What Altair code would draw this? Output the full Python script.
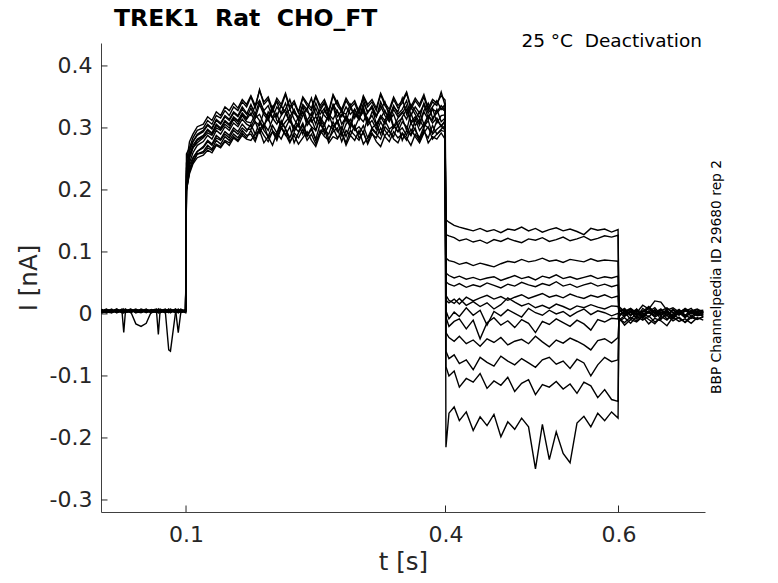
import altair as alt
import pandas as pd

# ---- time grids (s) for the four protocol segments ----
T_BASE = [0.002, 0.008, 0.014, 0.020, 0.026, 0.028, 0.030, 0.036, 0.042, 0.048, 0.054,
          0.060, 0.066, 0.068, 0.070, 0.076, 0.080, 0.082, 0.088, 0.091, 0.094, 0.0995]
T_ACT = [0.1005, 0.104, 0.108, 0.113,
         0.12, 0.125, 0.13, 0.135, 0.14, 0.145, 0.15, 0.155, 0.16, 0.165, 0.17,
         0.175, 0.18, 0.185, 0.19, 0.195, 0.2, 0.205, 0.21, 0.215, 0.22, 0.225, 0.23,
         0.235, 0.24, 0.245, 0.25, 0.255, 0.26, 0.265, 0.27, 0.275, 0.28, 0.285, 0.29,
         0.295, 0.3, 0.305, 0.31, 0.315, 0.32, 0.325, 0.33, 0.335, 0.34, 0.345, 0.35,
         0.355, 0.36, 0.365, 0.37, 0.375, 0.38, 0.385, 0.39, 0.395, 0.3995]
T_TAIL = [0.4005, 0.404, 0.41, 0.416, 0.424, 0.432, 0.44, 0.448, 0.456, 0.464, 0.472,
          0.48, 0.488, 0.496, 0.504, 0.512, 0.52, 0.528, 0.536, 0.544, 0.552, 0.56,
          0.568, 0.576, 0.584, 0.592, 0.5995]
T_POST = [0.6005, 0.607, 0.614, 0.621, 0.628, 0.635, 0.642, 0.649, 0.656, 0.663, 0.670,
          0.677, 0.684, 0.691, 0.698]

# ---- currents in pA, one list per sweep and segment ----
BASE = [
    [4, 6, 2, 5, 7, 3, 5, 8, 4, 6, 3, 7, 5, 2, 6, 4, 8, 5, 3, 6, 4, 5],
    [2, 5, 7, 3, 4, 6, 2, 5, 8, 3, 5, 4, 6, 3, 7, 2, 5, 4, 6, -30, 3, 4],
    [7, 3, 5, 8, 2, 4, 6, 3, 5, 7, 2, 6, 4, 8, 3, 5, 6, 2, 7, 4, 6, 3],
    [5, 8, 3, 6, 4, -30, 5, 7, 2, 4, 6, 3, 7, 5, 2, 6, 3, 7, 4, 5, 2, 6],
    [3, 4, 8, 2, 6, 5, 3, 4, 7, 5, 8, 2, 5, 3, 6, 7, 4, 3, 5, 8, 5, 2],
    [6, 2, 4, 7, 3, 5, 8, 2, 6, 3, 4, 7, 2, -33, 5, 3, 7, 6, 2, 4, 7, 5],
    [1, 5, 6, 3, 8, 2, 4, 6, 3, 8, 5, 2, 6, 4, 3, 7, 5, 8, 4, 2, 6, 4],
    [8, 3, 2, 6, 5, 7, 3, 5, 4, 2, 7, 5, 3, 6, 8, 4, 2, 5, 7, 3, 5, 7],
    [4, 7, 5, 2, 6, 3, 6, 4, -16, -20, -15, 4, 3, 7, 5, 2, 6, 3, 5, 7, 3, 4],
    [3, 6, 4, 8, 2, 6, 4, 3, 7, 5, 3, 6, 8, 2, 4, 6, 3, 7, 2, 5, 8, 3],
    [5, 2, 6, 4, 7, 3, 5, 7, 2, 6, 4, 3, 5, 7, 2, 5, -58, -60, 4, 6, 3, 6],
    [6, 4, 3, 7, 5, 2, 7, 3, 6, 4, 7, 5, 2, 4, 6, 3, 5, 4, 8, 2, 5, 4],
    [2, 7, 5, 4, 3, 8, 4, 6, 5, 3, 6, 4, 7, 3, 5, 8, 3, 6, 2, 7, 4, 5],
]
ACT = [
    [243, 278, 290, 302,
     306, 318, 312, 326, 320, 334, 328, 340, 332, 346, 338,
     352, 336, 360, 342, 350, 330, 348, 338, 356, 334, 344, 326, 350, 340, 332, 352, 336, 346, 328, 354,
     340, 330, 348, 336, 344, 326, 352, 338, 346, 332, 356, 340, 330, 350, 336, 344, 358, 334, 348, 338,
     354, 332, 346, 340, 352, 345],
    [205, 240, 252, 262,
     268, 278, 272, 284, 280, 290, 284, 296, 290, 300, 294,
     306, 290, 310, 296, 286, 304, 292, 312, 298, 284, 302, 294, 308, 288, 300, 282, 306, 296, 290, 310,
     294, 302, 286, 306, 298, 290, 304, 284, 300, 292, 310, 296, 286, 304, 294, 300, 288, 308, 296, 284,
     302, 312, 290, 298, 304, 296],
    [230, 262, 278, 288,
     294, 304, 298, 312, 306, 318, 312, 324, 318, 330, 322,
     338, 322, 344, 328, 336, 316, 334, 324, 340, 318, 330, 312, 336, 326, 320, 340, 322, 332, 314, 338,
     326, 318, 334, 322, 330, 314, 340, 326, 332, 318, 342, 326, 316, 336, 322, 330, 344, 320, 334, 324,
     338, 316, 330, 326, 336, 329],
    [198, 230, 246, 258,
     260, 268, 264, 274, 270, 280, 276, 286, 280, 292, 284,
     296, 282, 300, 288, 278, 294, 284, 302, 290, 276, 292, 284, 298, 280, 290, 274, 296, 286, 280, 300,
     284, 292, 276, 296, 288, 280, 294, 274, 290, 284, 300, 286, 278, 294, 284, 290, 280, 298, 286, 276,
     292, 302, 282, 290, 296, 294],
    [215, 252, 268, 276,
     284, 292, 288, 300, 296, 306, 300, 314, 306, 320, 310,
     308, 322, 312, 300, 326, 316, 306, 320, 330, 310, 302, 318, 326, 308, 316, 332, 312, 304, 322, 314,
     328, 306, 318, 300, 324, 314, 334, 310, 320, 304, 316, 328, 312, 322, 302, 318, 330, 308, 314, 326,
     306, 320, 312, 330, 310, 316],
    [258, 268, 284, 296,
     300, 312, 306, 320, 316, 328, 320, 334, 328, 342, 334,
     350, 332, 362, 338, 346, 326, 344, 334, 354, 330, 340, 324, 348, 336, 328, 350, 332, 342, 324, 352,
     336, 326, 344, 332, 340, 322, 350, 334, 342, 328, 354, 336, 326, 346, 332, 340, 356, 330, 344, 334,
     350, 328, 342, 336, 358, 336],
    [200, 234, 250, 262,
     270, 280, 274, 288, 282, 294, 288, 300, 294, 306, 298,
     298, 310, 292, 304, 316, 296, 288, 308, 300, 314, 294, 306, 290, 312, 302, 296, 316, 290, 304, 298,
     310, 288, 306, 314, 296, 302, 292, 316, 300, 306, 290, 312, 298, 304, 294, 310, 302, 288, 314, 296,
     306, 300, 292, 312, 304, 310],
    [226, 256, 272, 282,
     288, 298, 292, 306, 300, 312, 306, 318, 312, 324, 316,
     332, 316, 338, 322, 312, 330, 318, 336, 324, 310, 328, 316, 334, 312, 324, 306, 330, 320, 312, 336,
     318, 328, 310, 332, 322, 314, 330, 306, 326, 318, 336, 320, 310, 330, 318, 326, 314, 334, 322, 308,
     328, 340, 316, 324, 332, 327],
    [202, 230, 244, 258,
     262, 272, 266, 280, 274, 286, 280, 290, 284, 296, 288,
     290, 278, 298, 306, 284, 294, 280, 300, 288, 302, 276, 292, 304, 286, 298, 280, 290, 306, 282, 294,
     300, 278, 296, 288, 304, 284, 292, 276, 298, 290, 282, 302, 294, 286, 306, 280, 296, 288, 300, 278,
     294, 284, 304, 290, 298, 304],
    [235, 264, 278, 290,
     296, 306, 300, 314, 308, 320, 314, 326, 320, 334, 324,
     320, 336, 344, 326, 318, 334, 342, 322, 330, 346, 324, 316, 338, 330, 348, 320, 328, 340, 318, 334,
     344, 326, 322, 338, 316, 332, 346, 324, 336, 320, 330, 342, 318, 334, 326, 348, 322, 338, 328, 316,
     340, 324, 334, 344, 330, 338],
    [212, 244, 260, 272,
     278, 288, 282, 296, 290, 302, 296, 308, 302, 314, 306,
     302, 316, 322, 306, 296, 314, 324, 300, 310, 318, 298, 308, 326, 304, 314, 296, 318, 306, 322, 302,
     312, 296, 320, 308, 300, 316, 326, 304, 312, 298, 318, 306, 322, 300, 310, 316, 296, 324, 304, 314,
     300, 320, 308, 316, 302, 312],
    [200, 226, 242, 252,
     256, 264, 260, 272, 268, 278, 272, 284, 278, 288, 282,
     280, 290, 296, 276, 286, 272, 292, 282, 298, 278, 288, 274, 284, 294, 280, 270, 290, 298, 276, 286,
     282, 294, 272, 288, 280, 296, 274, 284, 292, 278, 270, 288, 296, 282, 276, 292, 284, 272, 290, 280,
     298, 276, 286, 282, 292, 282],
    [222, 252, 268, 280,
     286, 296, 290, 304, 298, 310, 304, 316, 310, 322, 314,
     324, 310, 304, 326, 316, 334, 312, 306, 322, 330, 314, 302, 320, 332, 310, 318, 306, 328, 316, 336,
     308, 322, 314, 304, 330, 318, 310, 326, 334, 306, 320, 312, 328, 302, 316, 324, 336, 310, 318, 304,
     326, 314, 332, 308, 320, 321],
]
TAIL = [
    [152, 148, 143, 140, 137, 134, 138, 133, 136, 131, 137, 135, 140, 134, 138, 132, 136, 139, 134, 137, 133, 128, 138, 135, 137, 132, 136],
    [128, 126, 123, 118, 121, 116, 119, 114, 120, 117, 122, 118, 115, 121, 119, 123, 117, 120, 124, 118, 121, 125, 119, 122, 126, 124, 127],
    [90, 86, 84, 80, 83, 78, 82, 79, 76, 81, 85, 83, 88, 84, 86, 90, 85, 87, 83, 88, 86, 84, 89, 85, 87, 86, 85],
    [66, 62, 58, 61, 56, 59, 55, 58, 60, 54, 58, 62, 57, 60, 55, 61, 58, 63, 57, 60, 56, 59, 62, 57, 60, 58, 61],
    [52, 48, 45, 49, 43, 47, 44, 50, 46, 42, 48, 45, 51, 47, 44, 49, 46, 52, 45, 48, 43, 47, 50, 45, 48, 44, 47],
    [22, 18, 24, 16, 27, 21, 26, 30, 24, 28, 22, 27, 31, 25, 29, 33, 27, 30, 26, 32, 28, 25, 30, 27, 31, 26, 29],
    [30, 22, 17, 25, 14, 20, 12, 18, 8, 15, 26, 19, 13, 17, 10, 14, 9, 16, 12, 7, 13, 10, 15, 11, 8, 13, 12],
    [5, -8, 3, -4, 10, -2, 6, -18, 4, -3, 7, 1, -5, 9, 2, -2, 6, 0, 4, -4, 3, 8, -1, 5, 2, -3, 1],
    [-5, -20, -12, -8, -24, -10, -40, -14, -6, -18, -11, -22, -9, -15, -30, -12, -17, -8, -14, -20, -10, -16, -26, -9, -13, -7, -8],
    [-30, -38, -44, -36, -48, -42, -52, -40, -46, -38, -50, -44, -41, -48, -36, -45, -53, -42, -47, -39, -44, -50, -58, -43, -40, -47, -38],
    [-60, -72, -66, -80, -74, -90, -70, -78, -84, -68, -76, -82, -72, -79, -86, -74, -70, -81, -76, -88, -73, -79, -100, -82, -70, -77, -74],
    [-85, -100, -92, -118, -104, -110, -96, -120, -108, -115, -102, -125, -112, -106, -130, -114, -118, -109, -121, -113, -128, -110, -116, -135, -122, -138, -141],
    [-215, -160, -150, -172, -158, -188, -166, -180, -162, -198, -174, -186, -168, -182, -250, -178, -235, -190, -225, -240, -176, -165, -182, -160, -172, -158, -168],
]
POST = [
    [8, -2, 5, -6, 9, 2, -4, 7, 1, -8, 4, -3, 6, -1, 3],
    [-5, 6, -3, 8, -7, 4, 10, -2, 5, -6, 2, 7, -4, 3, -2],
    [12, 4, 9, 2, 14, 8, 21, 19, 6, 10, 3, 8, 1, 5, 6],
    [-10, -3, 4, -8, 2, -5, 6, -9, 3, -4, 7, -2, -7, 1, -4],
    [3, 9, -2, 5, -4, 11, 2, 6, -3, 8, -1, 4, 9, -2, 5],
    [-8, -14, -5, -11, -2, -9, -16, -4, -10, -1, -7, -13, -3, -8, -5],
    [6, 0, 8, -3, 5, 1, 7, -4, 9, 2, -2, 6, 0, 4, 2],
    [-3, 4, -9, 2, -6, 5, -2, 3, -8, 0, 5, -5, 2, -3, -1],
    [10, 3, 7, -1, 4, 12, 2, 8, -3, 6, 1, 9, 3, 7, 0],
    [-12, -6, -15, -4, -10, -3, -13, -7, -2, -11, -5, -14, -6, -9, -4],
    [2, -4, 3, 7, -2, 4, -5, 1, 6, -3, 2, -6, 4, -1, 3],
    [-6, -18, -9, -13, -4, -16, -7, -11, -19, -5, -12, -8, -15, -6, -10],
    [4, 8, -1, 6, 3, 9, 0, 5, 10, 2, 7, -2, 5, 8, 3],
]

X_TICKS = [0.1, 0.4, 0.6]
Y_TICKS = [-0.3, -0.2, -0.1, 0.0, 0.1, 0.2, 0.3, 0.4]
NB = "\u00a0"
TITLE = "TREK1" + NB + " Rat" + NB + " CHO_FT"
SUBTITLE = "25 °C" + NB + " Deactivation"
SIDE = "BBP Channelpedia ID 29680 rep 2"

rows = []
times = T_BASE + T_ACT + T_TAIL + T_POST
for i in range(len(ACT)):
    assert len(BASE[i]) == len(T_BASE), ("base", i)
    assert len(ACT[i]) == len(T_ACT), ("act", i, len(ACT[i]))
    assert len(TAIL[i]) == len(T_TAIL), ("tail", i)
    assert len(POST[i]) == len(T_POST), ("post", i)
    vals = BASE[i] + ACT[i] + TAIL[i] + POST[i]
    for t, v in zip(times, vals):
        rows.append({"sweep": i, "t": t, "I": v / 1000.0})
df = pd.DataFrame(rows)

W, H = 604, 469
xs = alt.Scale(domain=[0.0017, 0.7], nice=False, zero=False)
ys = alt.Scale(domain=[-0.3194, 0.437], nice=False, zero=False)
AX = "#262626"
FIX = "replace(datum.label, '\u2212', '-')"
xaxis = alt.Axis(values=X_TICKS, ticks=False, grid=False, format="~g", labelExpr=FIX)
yaxis = alt.Axis(values=Y_TICKS, ticks=False, grid=False, format="~g", labelExpr=FIX)
XE = lambda: alt.X("t:Q", scale=xs, title="t [s]", axis=xaxis)
YE = lambda: alt.Y("I:Q", scale=ys, title="I [nA]", axis=yaxis)

lines = alt.Chart(df).mark_line(color="black", strokeWidth=1.4, clip=True).encode(
    x=XE(), y=YE(), detail="sweep:N", order="t:Q",
)

ytick = alt.Chart(pd.DataFrame({"I": Y_TICKS})).mark_rule(color=AX, strokeWidth=1).encode(
    y=YE(), x=alt.value(0), x2=alt.value(6.5))
xtick = alt.Chart(pd.DataFrame({"t": X_TICKS})).mark_rule(color=AX, strokeWidth=1).encode(
    x=XE(), y=alt.value(H), y2=alt.value(H - 6.5))

ttl = alt.Chart(pd.DataFrame({"s": [TITLE]})).mark_text(
    align="left", baseline="alphabetic", font="DejaVu Sans", fontSize=23.5,
    fontWeight="bold", color="black"
).encode(x=alt.value(13), y=alt.value(-17), text="s:N")

sub = alt.Chart(pd.DataFrame({"s": [SUBTITLE]})).mark_text(
    align="right", baseline="alphabetic", font="DejaVu Sans", fontSize=18.5, color="black"
).encode(x=alt.value(601), y=alt.value(4), text="s:N")

side = alt.Chart(pd.DataFrame({"s": [SIDE]})).mark_text(
    align="center", baseline="middle", angle=270, font="DejaVu Sans", fontSize=13.8, color="black"
).encode(x=alt.value(616), y=alt.value(234), text="s:N")

chart = alt.layer(lines, ytick, xtick, ttl, sub, side).properties(
    width=W, height=H,
    autosize=alt.AutoSizeParams(type="none"),
    padding={"left": 93, "top": 35, "right": 60, "bottom": 62},
).configure_view(stroke=None).configure_axis(
    domainColor="#404040", domainWidth=1,
    labelFont="DejaVu Sans", labelFontSize=22, labelColor=AX,
    titleFont="DejaVu Sans", titleFontSize=24.5, titleColor=AX, titleFontWeight="normal",
).configure_axisX(labelPadding=12, titlePadding=5).configure_axisY(labelPadding=9, titlePadding=8)

chart.save("out.html", embed_options={"renderer": "svg", "actions": False})
